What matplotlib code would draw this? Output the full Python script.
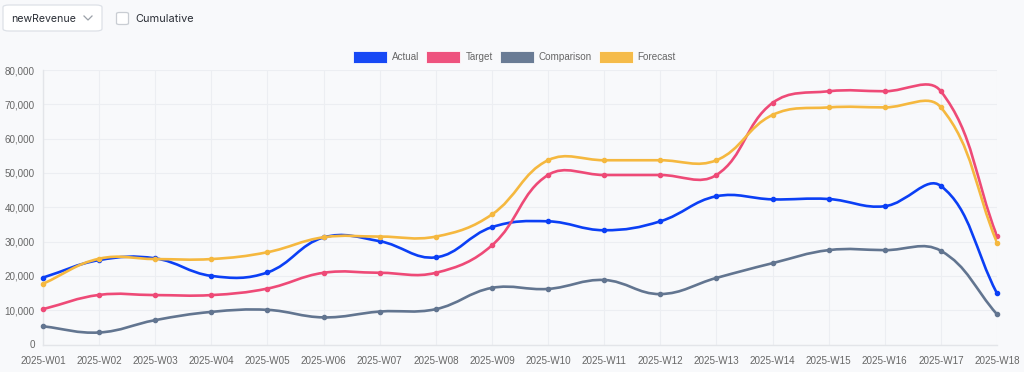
import matplotlib
matplotlib.use('Agg')
import matplotlib.pyplot as plt
from matplotlib.path import Path
from matplotlib.patches import PathPatch, FancyBboxPatch, Rectangle
from matplotlib.ticker import FuncFormatter
import numpy as np

weeks = ['2025-W%02d' % i for i in range(1, 19)]
actual = [19500, 24600, 25100, 20000, 21000, 31200, 30100, 25400, 34200,
          35900, 33300, 35900, 43200, 42300, 42400, 40300, 46200, 14900]
target = [10300, 14450, 14400, 14400, 16300, 20900, 20900, 20900, 28900,
          49400, 49400, 49400, 49400, 70400, 73800, 73800, 73800, 31600]
comparison = [5300, 3500, 7100, 9500, 10100, 7900, 9600, 10300, 16500,
              16200, 18800, 14700, 19400, 23700, 27500, 27500, 27300, 8800]
forecast = [17700, 25000, 24900, 24900, 26900, 31250, 31450, 31450, 37900,
            53700, 53700, 53700, 53700, 66900, 69100, 69100, 69100, 29700]

series = [('Actual', actual, '#0b3ff5'),
          ('Target', target, '#ee4a77'),
          ('Comparison', comparison, '#627590'),
          ('Forecast', forecast, '#f5b83f')]

W, H = 1024, 372
bg = '#f8f9fb'
fig = plt.figure(figsize=(W / 100, H / 100), dpi=100, facecolor=bg)


def fx(x):
    return x / W


def fy(y):
    return 1 - y / H


# plot area
left, right, top, bottom = 43, 997, 70, 344.5
ax = fig.add_axes([fx(left), fy(bottom), fx(right - left), (bottom - top) / H])
ax.set_facecolor(bg)
x = np.arange(len(weeks))
ax.set_xlim(0, len(weeks) - 1)
ax.set_ylim(0, 80000)
ax.set_xticks(x)
ax.set_xticklabels(weeks)
ax.set_yticks(np.arange(0, 80001, 10000))
ax.yaxis.set_major_formatter(FuncFormatter(lambda v, p: f'{int(v):,}'))
ax.tick_params(length=0, colors='#666666', labelsize=7.1)
ax.tick_params(axis='y', pad=6)
ax.tick_params(axis='x', pad=8)
for lab in ax.get_xticklabels() + ax.get_yticklabels():
    lab.set_fontfamily('Liberation Sans')
ax.grid(True, color='#eceef2', lw=0.8)
ax.set_axisbelow(True)
for s in ['top', 'right']:
    ax.spines[s].set_visible(False)
for s in ['left', 'bottom']:
    ax.spines[s].set_color('#e3e5e9')
    ax.spines[s].set_linewidth(1)


def spline_path(xs, ys, t=0.4):
    # chart.js style bezier control points, computed in pixel space
    pts = ax.transData.transform(np.column_stack([xs, ys]))
    n = len(pts)
    cp_prev = np.zeros_like(pts)
    cp_next = np.zeros_like(pts)
    for i in range(n):
        prev = pts[max(i - 1, 0)]
        cur = pts[i]
        nxt = pts[min(i + 1, n - 1)]
        d01 = np.hypot(*(cur - prev))
        d12 = np.hypot(*(nxt - cur))
        tot = d01 + d12
        s01 = d01 / tot if tot else 0
        s12 = d12 / tot if tot else 0
        cp_prev[i] = cur - t * s01 * (nxt - prev)
        cp_next[i] = cur + t * s12 * (nxt - prev)
    verts = [pts[0]]
    codes = [Path.MOVETO]
    for i in range(n - 1):
        verts += [cp_next[i], cp_prev[i + 1], pts[i + 1]]
        codes += [Path.CURVE4] * 3
    inv = ax.transData.inverted()
    return Path(inv.transform(np.array(verts)), codes)


for i, (name, vals, col) in enumerate(series):
    ax.add_patch(PathPatch(spline_path(x, vals), fc='none', ec=col, lw=1.9,
                           zorder=3 + i, capstyle='round', joinstyle='round'))
    ax.plot(x, vals, 'o', ms=3.0, color=col, zorder=3 + i, clip_on=False)

# legend
legend_y = 57
lx = 353
renderer = fig.canvas.get_renderer()
for name, vals, col in series:
    fig.patches.append(Rectangle((fx(lx), fy(legend_y + 6)), fx(34), 12 / H,
                                 transform=fig.transFigure, fc=col,
                                 ec='white', lw=0.6, alpha=0.95))
    t = fig.text(fx(lx + 39), fy(legend_y), name, fontsize=7.1,
                 color='#666666', va='center', ha='left',
                 family='Liberation Sans')
    tw = t.get_window_extent(renderer=renderer).width
    lx += 39 + tw + 7

# top controls
fig.patches.append(FancyBboxPatch((fx(3), fy(31)), fx(99), 26 / H,
                                  boxstyle='round,pad=0,rounding_size=0.006',
                                  transform=fig.transFigure, fc='white',
                                  ec='#dde1e7', lw=0.9))
fig.text(fx(11), fy(18.5), 'newRevenue', fontsize=7.6, color='#2a2e36',
         va='center', ha='left', family='Inter')
fig.lines.append(plt.Line2D([fx(84), fx(88), fx(92)], [fy(16), fy(20), fy(16)],
                            transform=fig.transFigure, color='#9aa0a8', lw=0.9))
fig.patches.append(FancyBboxPatch((fx(116.5), fy(24.5)), fx(12), 12 / H,
                                  boxstyle='round,pad=0,rounding_size=0.003',
                                  transform=fig.transFigure, fc='white',
                                  ec='#c9cdd3', lw=0.9))
fig.text(fx(135), fy(18.5), 'Cumulative', fontsize=7.9, color='#2a2e36',
         va='center', ha='left', family='Inter')

fig.savefig('out.png', dpi=100, facecolor=bg)
